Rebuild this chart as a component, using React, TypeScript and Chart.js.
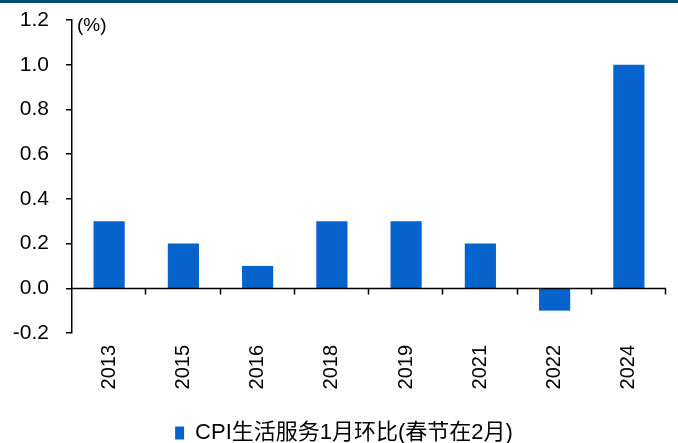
import React, { useEffect, useRef } from "react";
import { Chart, registerables } from "chart.js";

Chart.register(...registerables);

const categories = ["2013", "2015", "2016", "2018", "2019", "2021", "2022", "2024"];
const values = [0.3, 0.2, 0.1, 0.3, 0.3, 0.2, -0.1, 1.0];
const seriesName = "CPI生活服务1月环比(春节在2月)";
const yMin = -0.2;
const yMax = 1.2;
const yStep = 0.2;
const unitLabel = "(%)";

const FONT = "'Liberation Sans', Arial, 'Noto Sans CJK SC', sans-serif";
const BAR = "#0563CB";

const decorPlugin = {
  id: "decor",
  afterLayout(chart: any) {
    const lg = chart.legend;
    if (lg) {
      lg.left += 11;
      lg.right += 11;
    }
  },
  beforeDraw(chart: any) {
    const ctx = chart.ctx;
    ctx.save();
    ctx.fillStyle = "#0B4A6F";
    ctx.fillRect(0, 0, chart.width, 3);
    ctx.restore();
  },
  afterDatasetsDraw(chart: any) {
    const { ctx, chartArea, scales } = chart;
    const x = scales.x;
    const y = scales.y;
    const y0 = Math.round(y.getPixelForValue(0)) + 0.5;
    ctx.save();
    ctx.strokeStyle = "#000";
    ctx.lineWidth = 1.5;
    ctx.beginPath();
    ctx.moveTo(chartArea.left, y0);
    ctx.lineTo(chartArea.right, y0);
    const n = categories.length;
    const w = (chartArea.right - chartArea.left) / n;
    for (let k = 1; k <= n; k++) {
      const px = Math.round(x.getPixelForValue(k - 1) + w / 2) - 0.5;
      ctx.moveTo(px, y0);
      ctx.lineTo(px, y0 + 6);
    }
    ctx.stroke();
    ctx.fillStyle = "#000";
    ctx.font = "19px " + FONT;
    ctx.textBaseline = "middle";
    ctx.textAlign = "left";
    ctx.fillText(unitLabel, chartArea.left + 5, chartArea.top + 6);
    ctx.restore();
  },
};

export default function App() {
  const ref = useRef<HTMLCanvasElement>(null);
  useEffect(() => {
    document.body.style.margin = "0";
    const chart = new Chart(ref.current!, {
      type: "bar",
      data: {
        labels: categories,
        datasets: [
          {
            label: seriesName,
            data: values,
            backgroundColor: BAR,
            borderWidth: 0,
            barPercentage: 0.42,
            categoryPercentage: 1,
          },
        ],
      },
      options: {
        animation: false,
        responsive: false,
        maintainAspectRatio: false,
        layout: { padding: { top: 20, right: 12, left: 0, bottom: -11 } },
        scales: {
          x: {
            grid: { display: false, drawTicks: false },
            border: { display: false },
            ticks: {
              minRotation: 90,
              maxRotation: 90,
              padding: 12,
              color: "#000",
              font: { family: FONT, size: 20 },
            },
            afterFit: (s: any) => {
              s.height = 79;
            },
          },
          y: {
            min: yMin,
            max: yMax,
            grid: { drawOnChartArea: false, tickLength: 6, color: "#000", lineWidth: 1.5 },
            border: { display: true, color: "#000", width: 1.5 },
            ticks: {
              stepSize: yStep,
              padding: 17,
              color: "#000",
              font: { family: FONT, size: 21 },
              callback: (v: any) => {
                const n = Number(v);
                return (Math.abs(n) < 1e-9 ? 0 : n).toFixed(1);
              },
            },
            afterFit: (s: any) => {
              s.width = 72;
              s.paddingTop = 0;
              s.paddingBottom = 0;
            },
          },
        },
        plugins: {
          tooltip: { enabled: false },
          legend: {
            position: "bottom",
            labels: {
              boxWidth: 9,
              boxHeight: 13,
              padding: 10,
              color: "#000",
              font: { family: FONT, size: 22 },
            },
          },
        },
      },
      plugins: [decorPlugin],
    } as any);
    return () => chart.destroy();
  }, []);
  return (
    <div style={{ width: 678, height: 443 }}>
      <canvas ref={ref} width={678} height={443} style={{ display: "block" }} />
    </div>
  );
}
